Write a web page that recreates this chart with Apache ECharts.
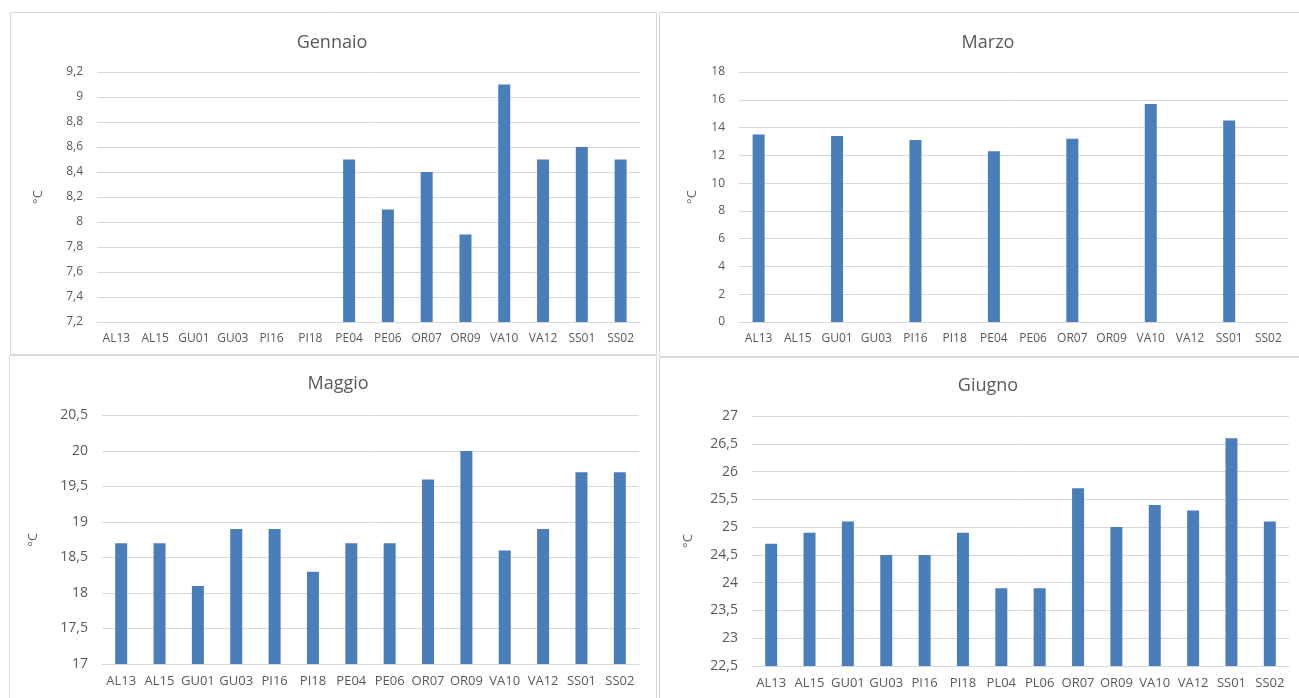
<!DOCTYPE html>
<html>
<head>
<meta charset="utf-8">
<script src="https://cdn.jsdelivr.net/npm/echarts@6/dist/echarts.min.js"></script>
<style>
html,body{margin:0;padding:0;background:#fff;}
#c{width:1299px;height:698px;}
</style>
</head>
<body>
<div id="c"></div>
<script>
const categories = ['AL13','AL15','GU01','GU03','PI16','PI18','PE04','PE06','OR07','OR09','VA10','VA12','SS01','SS02'];
const categoriesGiugno = ['AL13','AL15','GU01','GU03','PI16','PI18','PL04','PL06','OR07','OR09','VA10','VA12','SS01','SS02'];
const titles = ['Gennaio','Marzo','Maggio','Giugno'];
const valuesGennaio = [null,null,null,null,null,null,8.5,8.1,8.4,7.9,9.1,8.5,8.6,8.5];
const valuesMarzo = [13.5,null,13.4,null,13.1,null,12.3,null,13.2,null,15.7,null,14.5,null];
const valuesMaggio = [18.7,18.7,18.1,18.9,18.9,18.3,18.7,18.7,19.6,20.0,18.6,18.9,19.7,19.7];
const valuesGiugno = [24.7,24.9,25.1,24.5,24.5,24.9,23.9,23.9,25.7,25.0,25.4,25.3,26.6,25.1];
const yMin = [7.2, 0, 17, 22.5];
const yMax = [9.2, 18, 20.5, 27];
const yStep = [0.2, 2, 0.5, 0.5];
const unit = '°C';

const FONT = 'Open Sans';
const TXT = '#595959';
const GRID = '#d9d9d9';
const BAR = '#4a7ebb';

const grids = [
  {left:97, top:72, width:543, height:250},
  {left:739, top:72, width:549, height:250},
  {left:102, top:415.5, width:537, height:248.5},
  {left:752, top:416, width:537, height:250}
];
const titlePos = [[327,29],[983,29],[333,370],[983,372]];
const nameGaps = [52, 40, 62, 57];
const catFont = [12, 12, 13, 13];
const valFont = [12, 12, 14, 14];
const catSets = [categories, categories, categories, categoriesGiugno];
const dataSets = [valuesGennaio, valuesMarzo, valuesMaggio, valuesGiugno];

const fmt = v => String(+(+v).toFixed(2)).replace('.', ',');

const chart = echarts.init(document.getElementById('c'), null, {renderer:'canvas'});
chart.setOption({
  backgroundColor:'#fff',
  animation:false,
  textStyle:{fontFamily:FONT},
  title: titles.map((t,i)=>({
    text:t, left:titlePos[i][0], top:titlePos[i][1], textAlign:'center',
    textStyle:{fontFamily:FONT, fontSize:18, fontWeight:'normal', color:TXT}
  })),
  grid: grids.map(g=>Object.assign({containLabel:false}, g)),
  xAxis: catSets.map((c,i)=>({
    type:'category', gridIndex:i, data:c,
    axisTick:{show:false},
    axisLine:{show:true, lineStyle:{color:GRID, width:1}},
    axisLabel:{interval:0, color:TXT, fontFamily:FONT, fontSize:catFont[i], margin:i<2?11:11}
  })),
  yAxis: grids.map((g,i)=>({
    type:'value', gridIndex:i, min:yMin[i], max:yMax[i], interval:yStep[i],
    name:unit, nameLocation:'middle', nameRotate:90, nameGap:nameGaps[i],
    nameTextStyle:{color:TXT, fontFamily:FONT, fontSize:13},
    axisLine:{show:false}, axisTick:{show:false},
    splitLine:{show:true, lineStyle:{color:GRID, width:1}},
    axisLabel:{color:TXT, fontFamily:FONT, fontSize:valFont[i], margin:14, formatter:fmt}
  })),
  series: dataSets.map((d,i)=>({
    type:'bar', xAxisIndex:i, yAxisIndex:i, data:d, barWidth:12,
    itemStyle:{color:BAR}
  })),
  graphic:[
    {type:'rect', shape:{x:10.5,y:12.5,width:646,height:342}, style:{fill:'none', stroke:GRID, lineWidth:1}, silent:true},
    {type:'rect', shape:{x:659.5,y:12.5,width:650,height:344}, style:{fill:'none', stroke:GRID, lineWidth:1}, silent:true},
    {type:'rect', shape:{x:9.5,y:355.5,width:647,height:360}, style:{fill:'none', stroke:GRID, lineWidth:1}, silent:true},
    {type:'rect', shape:{x:659.5,y:357.5,width:650,height:360}, style:{fill:'none', stroke:GRID, lineWidth:1}, silent:true}
  ]
});
</script>
</body>
</html>
